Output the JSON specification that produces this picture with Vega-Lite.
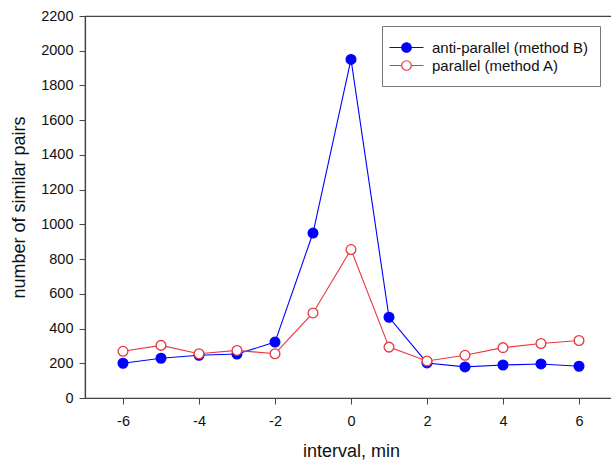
{
  "$schema": "https://vega.github.io/schema/vega-lite/v6.json",
  "autosize": "none",
  "width": 532,
  "height": 382,
  "padding": {"left": 85, "top": 16, "right": 0, "bottom": 63},
  "background": "white",
  "config": {
    "font": "Liberation Sans",
    "view": {"stroke": "#444", "strokeWidth": 1.2},
    "axis": {"grid": false, "domainColor": "#444", "tickColor": "#444", "labelColor": "#111", "titleColor": "#111", "labelFontSize": 14.5, "titleFontSize": 18, "titleFontWeight": "normal", "tickSize": 6, "domainWidth": 1.2, "labelExpr": "toString(datum.value)"},
    "legend": {"title": null, "orient": "none", "legendX": 297, "legendY": 10, "padding": 12, "strokeColor": "#777", "fillColor": "white", "labelFontSize": 15, "labelColor": "#111", "rowPadding": -4,
      "symbolType": "M-2,0H-0.56M0.56,0H2M0.56,0A0.56,0.56 0 1,1 -0.56,0A0.56,0.56 0 1,1 0.56,0", "symbolSize": 289, "symbolStrokeWidth": 1.2, "symbolOffset": 3, "labelOffset": 16}
  },
  "data": {"values": [
    {"x": -6, "y": 200, "s": "anti-parallel (method B)"},
    {"x": -5, "y": 229, "s": "anti-parallel (method B)"},
    {"x": -4, "y": 246, "s": "anti-parallel (method B)"},
    {"x": -3, "y": 253, "s": "anti-parallel (method B)"},
    {"x": -2, "y": 322, "s": "anti-parallel (method B)"},
    {"x": -1, "y": 950, "s": "anti-parallel (method B)"},
    {"x": 0, "y": 1950, "s": "anti-parallel (method B)"},
    {"x": 1, "y": 465, "s": "anti-parallel (method B)"},
    {"x": 2, "y": 202, "s": "anti-parallel (method B)"},
    {"x": 3, "y": 179, "s": "anti-parallel (method B)"},
    {"x": 4, "y": 190, "s": "anti-parallel (method B)"},
    {"x": 5, "y": 196, "s": "anti-parallel (method B)"},
    {"x": 6, "y": 183, "s": "anti-parallel (method B)"},
    {"x": -6, "y": 269, "s": "parallel (method A)"},
    {"x": -5, "y": 303, "s": "parallel (method A)"},
    {"x": -4, "y": 255, "s": "parallel (method A)"},
    {"x": -3, "y": 274, "s": "parallel (method A)"},
    {"x": -2, "y": 255, "s": "parallel (method A)"},
    {"x": -1, "y": 490, "s": "parallel (method A)"},
    {"x": 0, "y": 855, "s": "parallel (method A)"},
    {"x": 1, "y": 293, "s": "parallel (method A)"},
    {"x": 2, "y": 213, "s": "parallel (method A)"},
    {"x": 3, "y": 246, "s": "parallel (method A)"},
    {"x": 4, "y": 290, "s": "parallel (method A)"},
    {"x": 5, "y": 314, "s": "parallel (method A)"},
    {"x": 6, "y": 331, "s": "parallel (method A)"}
  ]},
  "encoding": {
    "x": {"field": "x", "type": "quantitative", "scale": {"domain": [-7, 7], "nice": false, "zero": false},
      "axis": {"values": [-6, -4, -2, 0, 2, 4, 6], "title": "interval, min", "titlePadding": 15, "labelPadding": 10}},
    "y": {"field": "y", "type": "quantitative", "scale": {"domain": [0, 2200], "nice": false},
      "axis": {"values": [0,200,400,600,800,1000,1200,1400,1600,1800,2000,2200], "title": "number of similar pairs", "titlePadding": 12, "labelPadding": 6}}
  },
  "layer": [
    {"mark": {"type": "line", "strokeWidth": 1.1},
     "encoding": {"stroke": {"field": "s", "type": "nominal", "scale": {"domain": ["anti-parallel (method B)", "parallel (method A)"], "range": ["#0000ff", "#e8383d"]}}}},
    {"mark": {"type": "point", "shape": "circle", "size": 95, "strokeWidth": 1.3, "opacity": 1},
     "encoding": {
       "stroke": {"field": "s", "type": "nominal", "scale": {"domain": ["anti-parallel (method B)", "parallel (method A)"], "range": ["#0000ff", "#e8383d"]}},
       "fill": {"field": "s", "type": "nominal", "scale": {"domain": ["anti-parallel (method B)", "parallel (method A)"], "range": ["#0000ff", "#ffffff"]}}
     }}
  ]
}
